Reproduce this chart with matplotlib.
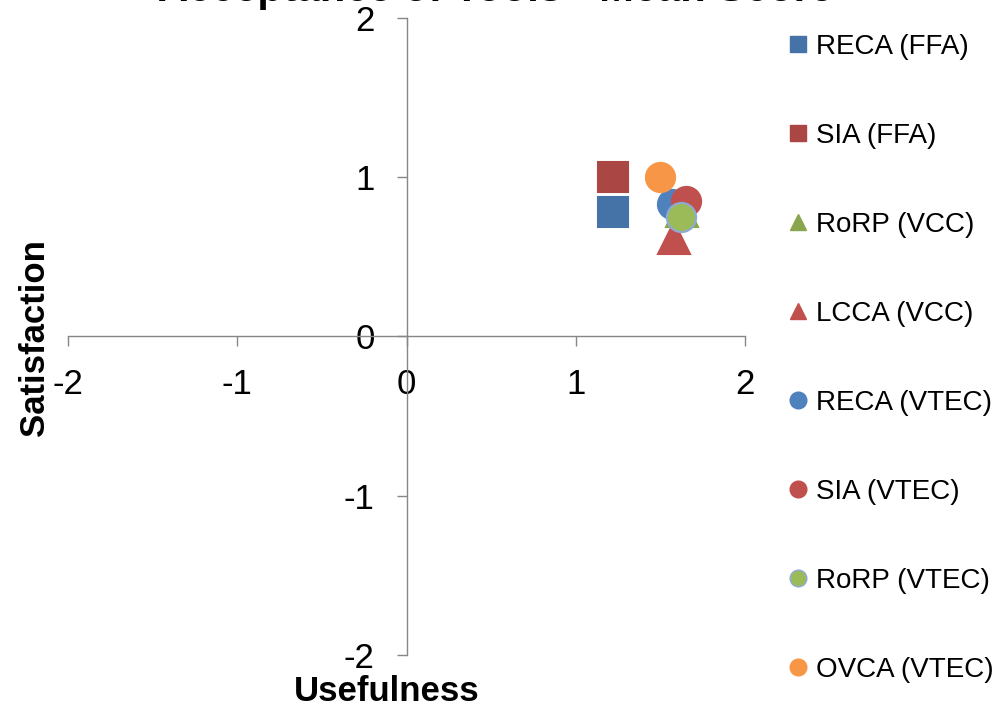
import matplotlib
matplotlib.use("Agg")
import matplotlib.pyplot as plt
from matplotlib.lines import Line2D

plt.rcParams['font.family'] = ['Liberation Sans', 'DejaVu Sans']

# mean scores per tool
labels = ['RECA (FFA)', 'SIA (FFA)', 'RoRP (VCC)', 'LCCA (VCC)',
          'RECA (VTEC)', 'SIA (VTEC)', 'RoRP (VTEC)', 'OVCA (VTEC)']
usefulness = [1.22, 1.22, 1.63, 1.58, 1.57, 1.65, 1.62, 1.50]
satisfaction = [0.78, 1.00, 0.79, 0.62, 0.83, 0.85, 0.75, 1.00]
markers = ['s', 's', '^', '^', 'o', 'o', 'o', 'o']
colors = ['#4572A7', '#AA4643', '#89A54E', '#C0504D',
          '#4F81BD', '#C0504D', '#9BBB59', '#F79646']
edges = ['#4572A7', '#AA4643', '#89A54E', '#C0504D',
         '#4F81BD', '#C0504D', '#8EA9D6', '#F79646']
ticks = [-2, -1, 0, 1, 2]

fig = plt.figure(figsize=(10, 7.03), dpi=100)
ax = fig.add_axes([0.068, 0.0683, 0.677, 0.9061])

for i in range(len(labels)):
    ax.plot(usefulness[i], satisfaction[i], linestyle='none', marker=markers[i],
            markersize=21 if markers[i] != '^' else 23,
            markerfacecolor=colors[i], markeredgecolor=edges[i],
            markeredgewidth=1.5, label=labels[i], zorder=3)

ax.set_xlim(-2, 2)
ax.set_ylim(-2, 2)
ax.set_xticks(ticks)
ax.set_yticks(ticks)
ax.set_xticklabels([str(t) for t in ticks])
ax.set_yticklabels([str(t) for t in ticks])

for side in ['top', 'right']:
    ax.spines[side].set_visible(False)
for side in ['left', 'bottom']:
    ax.spines[side].set_position(('data', 0))
    ax.spines[side].set_color('#868686')
    ax.spines[side].set_linewidth(1.0)

ax.tick_params(axis='both', colors='#868686', labelcolor='black',
               labelsize=25, length=7, width=1.0, direction='out')
ax.tick_params(axis='x', pad=16)
ax.tick_params(axis='y', pad=16)

fig.text(0.035, 0.52, 'Satisfaction', rotation=90, ha='center', va='center',
         fontsize=25, fontweight='bold')
fig.text(0.387, 0.003, 'Usefulness', ha='center', va='baseline',
         fontsize=25, fontweight='bold')

# title sits mostly above the canvas
fig.text(0.495, 1 - 1.5 / 703, 'Acceptance of Tools - Mean Score', ha='center',
         va='baseline', fontsize=30, fontweight='bold')

handles = []
for i in range(len(labels)):
    handles.append(Line2D([], [], linestyle='none', marker=markers[i],
                          markersize=12, markerfacecolor=colors[i],
                          markeredgecolor=edges[i], markeredgewidth=1.0))
fig.legend(handles, labels, loc='upper left', bbox_to_anchor=(0.777, 0.968),
           frameon=False, fontsize=20, labelspacing=2.27, handlelength=0.7,
           handletextpad=0.3, borderaxespad=0)

fig.savefig('out.png', dpi=100)
